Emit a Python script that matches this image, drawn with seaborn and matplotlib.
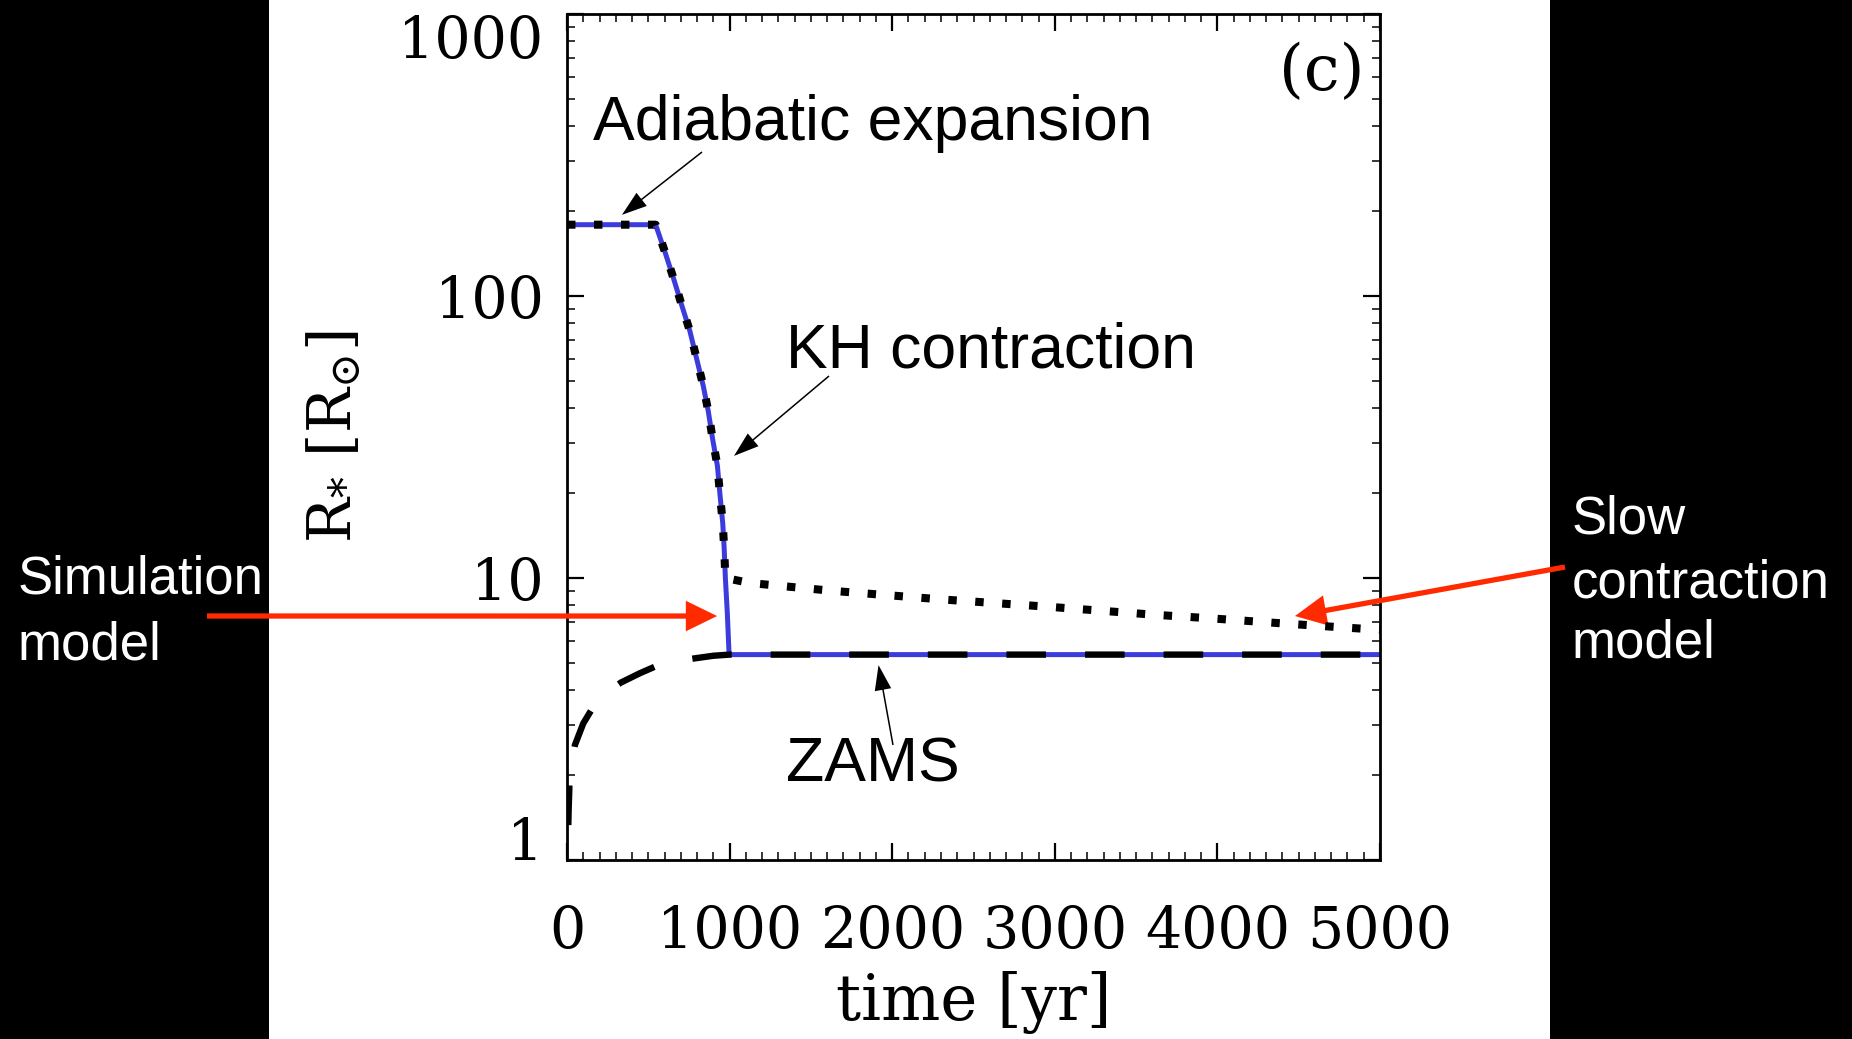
import matplotlib
matplotlib.use("Agg")
import matplotlib.pyplot as plt
from matplotlib.patches import Rectangle
from matplotlib.ticker import LogLocator, NullFormatter, MultipleLocator
import seaborn as sns

# ---------------- data ----------------
sim_time = [0, 545, 603, 654, 705, 756, 797, 838, 869, 896, 925, 941, 958,
            967, 974, 986, 996, 1000, 5000]
sim_radius = [179, 179, 143, 116, 93, 75, 60, 48, 39, 31, 25, 19.7, 15.6,
              12.6, 10.0, 7.5, 5.5, 5.35, 5.35]

slow_time = [0, 545, 603, 654, 705, 756, 797, 838, 869, 896, 925, 941, 958,
             967, 974, 1125, 1636, 2300, 2970, 3623, 3951, 4451, 4945, 5000]
slow_radius = [179, 179, 143, 116, 93, 75, 60, 48, 39, 31, 25, 19.7, 15.6,
               12.6, 10.0, 9.6, 9.0, 8.4, 7.9, 7.4, 7.2, 6.87, 6.58, 6.55]

zams_time = [8, 10, 15, 30, 49, 100, 152, 250, 332, 450, 552, 700, 787, 900,
             1000, 5000]
zams_radius = [1.33, 1.5, 1.85, 2.2, 2.56, 3.05, 3.42, 3.95, 4.26, 4.6, 4.88,
               5.1, 5.19, 5.3, 5.35, 5.35]

x_ticks = [0, 1000, 2000, 3000, 4000, 5000]
x_tick_labels = ["0", "1000", "2000", "3000", "4000", "5000"]
y_ticks = [1, 10, 100, 1000]
y_tick_labels = ["1", "10", "100", "1000"]

# ---------------- style ----------------
sns.set_theme(style="ticks")
plt.rcParams["font.family"] = ["DejaVu Serif"]
plt.rcParams["mathtext.fontset"] = "dejavuserif"
plt.rcParams["axes.edgecolor"] = "black"
plt.rcParams["axes.linewidth"] = 2.0

SANS = ["Liberation Sans", "DejaVu Sans"]
BLUE = "#3c3cdc"
RED = "#ff2a00"

W, H = 1852, 1039
fig = plt.figure(figsize=(W / 100, H / 100), dpi=100, facecolor="white")

# black side panels of the slide
fig.patches.append(Rectangle((0, 0), 269 / W, 1, transform=fig.transFigure,
                             facecolor="black", edgecolor="none", zorder=-5))
fig.patches.append(Rectangle((1550 / W, 0), 1 - 1550 / W, 1,
                             transform=fig.transFigure,
                             facecolor="black", edgecolor="none", zorder=-5))

ax = fig.add_axes([567 / W, (H - 860) / H, 813 / W, 846 / H])
ax.set_facecolor("white")

# ---------------- curves ----------------
sns.lineplot(x=sim_time, y=sim_radius, ax=ax, sort=False, estimator=None,
             color=BLUE, linewidth=3.6, zorder=2)
sns.lineplot(x=zams_time, y=zams_radius, ax=ax, sort=False, estimator=None,
             color="black", linewidth=4.6, linestyle=(0, (6.2, 6.1)),
             dash_capstyle="butt", zorder=3)
sns.lineplot(x=slow_time, y=slow_radius, ax=ax, sort=False, estimator=None,
             color="black", linewidth=5.8, linestyle=(0, (1.05, 2.3)),
             dash_capstyle="butt", zorder=4)

ax.set_yscale("log")
ax.set_xlim(0, 5000)
ax.set_ylim(1, 1000)
ax.set_xticks(x_ticks, labels=x_tick_labels)
ax.set_yticks(y_ticks, labels=y_tick_labels)
ax.xaxis.set_minor_locator(MultipleLocator(100))
ax.yaxis.set_minor_locator(LogLocator(base=10, subs=[2, 3, 4, 5, 6, 7, 8, 9]))
ax.yaxis.set_minor_formatter(NullFormatter())

for s in ax.spines.values():
    s.set_visible(True)
    s.set_linewidth(2.0)
    s.set_color("black")

ax.tick_params(axis="both", which="major", direction="in", length=12,
               width=1.6, top=True, right=True, labelsize=41,
               colors="black")
ax.tick_params(axis="both", which="minor", direction="in", length=6,
               width=1.3, top=True, right=True)
ax.tick_params(axis="x", which="major", pad=32)
ax.tick_params(axis="y", which="major", pad=17)

for lab in ax.get_yticklabels():
    if lab.get_text() == "1000":
        lab.set_verticalalignment("top")
    elif lab.get_text() == "1":
        lab.set_verticalalignment("baseline")

ax.set_xlabel("time [yr]", fontsize=45, color="black")
ax.xaxis.set_label_coords(0.5, -0.131)
ax.set_ylabel(r"$\mathrm{R}_{*}\ [\mathrm{R}_{\odot}]$", fontsize=43,
              color="black")
ax.yaxis.set_label_coords(-0.2497, 0.5)

ax.text(0.9815, 0.910, "(c)", transform=ax.transAxes, ha="right",
        va="baseline", fontsize=46, color="black")


# ---------------- annotations ----------------
def fp(x, y):
    """top-left pixel position -> figure pixels"""
    return (x, H - y)


black_arrow = dict(arrowstyle="simple,head_length=18,head_width=12,tail_width=1.1",
                   mutation_scale=1, color="black", lw=0, shrinkA=0, shrinkB=0)
red_arrow = dict(arrowstyle="simple,head_length=22.5,head_width=22,tail_width=3.8",
                 mutation_scale=1, color=RED, lw=0, shrinkA=0, shrinkB=0)

ax.annotate("", xy=(338, 194), xycoords="data", xytext=fp(702, 152),
            textcoords="figure pixels", arrowprops=black_arrow)
ax.annotate("", xy=(1027, 27.1), xycoords="data", xytext=fp(829, 376),
            textcoords="figure pixels", arrowprops=black_arrow)
ax.annotate("", xy=(1916, 4.91), xycoords="data", xytext=fp(893, 745),
            textcoords="figure pixels", arrowprops=black_arrow)

ax.annotate("", xy=(923, 7.33), xycoords="data", xytext=fp(207, 616),
            textcoords="figure pixels", arrowprops=red_arrow,
            annotation_clip=False)
ax.annotate("", xy=(4477, 7.33), xycoords="data", xytext=fp(1565, 567),
            textcoords="figure pixels", arrowprops=red_arrow,
            annotation_clip=False)


def ftext(x, y, s, **kw):
    fig.text(x / W, (H - y) / H, s, va="baseline", ha="left",
             family=SANS, **kw)


ftext(593, 140, "Adiabatic expansion", fontsize=45, color="black")
ftext(786, 367, "KH contraction", fontsize=45, color="black")
ftext(786, 782, "ZAMS", fontsize=45, color="black")

ftext(18, 593, "Simulation", fontsize=38, color="white")
ftext(18, 660, "model", fontsize=38, color="white")
ftext(1572, 533, "Slow", fontsize=38, color="white")
ftext(1572, 597, "contraction", fontsize=38, color="white")
ftext(1572, 658, "model", fontsize=38, color="white")

fig.savefig("out.png", dpi=100, facecolor="white")
